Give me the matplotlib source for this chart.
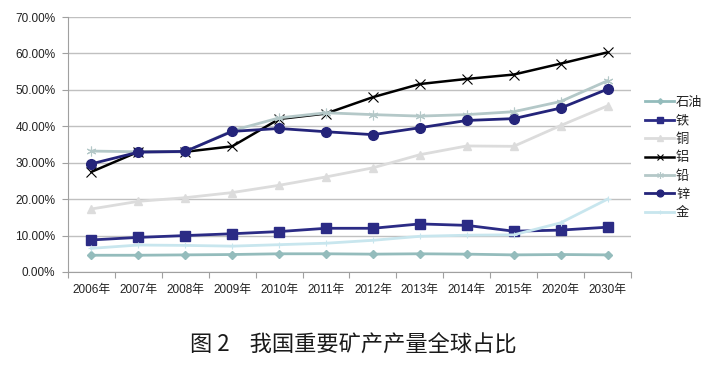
import numpy as np
import matplotlib
matplotlib.use("Agg")
import matplotlib.pyplot as plt
from matplotlib.ticker import FuncFormatter

plt.rcParams['font.family'] = ['Liberation Sans', 'Noto Sans CJK SC', 'DejaVu Sans']

years = ["2006年", "2007年", "2008年", "2009年", "2010年", "2011年",
         "2012年", "2013年", "2014年", "2015年", "2020年", "2030年"]

oil = [4.6, 4.6, 4.7, 4.8, 5.0, 5.0, 4.9, 5.0, 4.9, 4.7, 4.8, 4.7]
iron = [8.8, 9.5, 10.0, 10.5, 11.1, 12.0, 12.0, 13.2, 12.8, 11.2, 11.5, 12.3]
copper = [17.3, 19.4, 20.4, 21.8, 23.8, 26.1, 28.6, 32.2, 34.6, 34.5, 40.2, 45.6]
aluminum = [27.5, 33.0, 33.0, 34.5, 42.0, 43.5, 48.0, 51.6, 53.0, 54.2, 57.2, 60.3]
lead = [33.2, 33.0, 33.0, 38.8, 42.3, 43.7, 43.2, 42.8, 43.2, 44.0, 46.8, 52.5]
zinc = [29.7, 32.9, 33.1, 38.6, 39.4, 38.5, 37.7, 39.6, 41.6, 42.1, 45.0, 50.2]
gold = [6.5, 7.4, 7.3, 7.1, 7.5, 7.9, 8.7, 9.8, 10.1, 10.2, 13.5, 20.0]

# name, values, colour, marker, size, line width, marker edge width
series = [
    ("石油", oil, "#94bcbc", "D", 4, 2.0, 1.0),
    ("铁", iron, "#2b2b85", "s", 7, 2.0, 1.0),
    ("铜", copper, "#dcdcdc", "^", 6, 2.0, 1.0),
    ("铝", aluminum, "#000000", "x", 7, 1.8, 0.8),
    ("铅", lead, "#b4c8c8", (6, 2, 0), 7, 2.0, 0.8),
    ("锌", zinc, "#24247a", "o", 7, 2.0, 1.0),
    ("金", gold, "#c8e6ee", "+", 5, 2.0, 0.8),
]

fig = plt.figure(figsize=(7.07, 3.65), dpi=100)
ax = fig.add_axes([68 / 707, 1 - 272 / 365, (631 - 68) / 707, (272 - 17) / 365])

x = np.arange(len(years))
for name, vals, color, marker, ms, lw, mew in series:
    ax.plot(x, vals, color=color, marker=marker, markersize=ms, linewidth=lw,
            label=name, markeredgecolor=color, markerfacecolor=color,
            markeredgewidth=mew)

ax.set_xlim(-0.5, len(years) - 0.5)
ax.set_ylim(0, 70)
ax.set_yticks(np.arange(0, 71, 10))
ax.yaxis.set_major_formatter(FuncFormatter(lambda v, p: "%.2f%%" % v))
ax.set_xticks(np.arange(-0.5, len(years), 1))
ax.set_xticklabels([])
ax.set_xticks(x, minor=True)
ax.set_xticklabels(years, minor=True)
ax.tick_params(axis='x', which='minor', length=0, pad=9, labelsize=8.5, colors='#222222')
ax.tick_params(axis='x', which='major', length=4, color='#a0a0a0')
ax.tick_params(axis='y', length=4, color='#a0a0a0', labelsize=8.5, labelcolor='#222222', pad=5)

ax.grid(axis='y', color='#c0c0c0', linewidth=1)
ax.set_axisbelow(True)
for s in ['top', 'right']:
    ax.spines[s].set_visible(False)
ax.spines['left'].set_color('#a0a0a0')
ax.spines['bottom'].set_color('#a0a0a0')

h, l = ax.get_legend_handles_labels()
leg = fig.legend(h, l, loc='center left', bbox_to_anchor=(645 / 707, 1 - 158 / 365),
                 frameon=False, fontsize=9.5, handlelength=2.2, handletextpad=0.15,
                 labelspacing=0.45, borderaxespad=0, borderpad=0, markerscale=0.7)
for t in leg.get_texts():
    t.set_color('#222222')

fig.text(0.5, 1 - 345 / 365, "图 2    我国重要矿产产量全球占比", ha='center', va='center',
         fontsize=16, family=['Noto Sans CJK SC', 'DejaVu Sans'], color='#1a1a1a')

fig.savefig("out.png", dpi=100)
